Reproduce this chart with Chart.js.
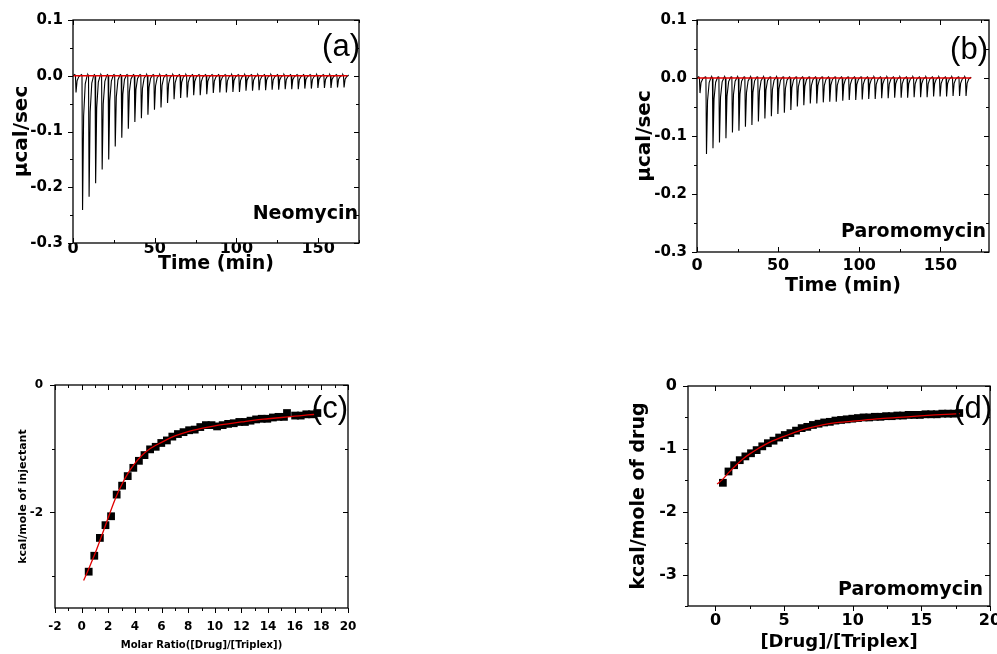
<!DOCTYPE html>
<html>
<head>
<meta charset="utf-8">
<script src="https://cdn.jsdelivr.net/npm/chart.js@4.4.0/dist/chart.umd.min.js"></script>
<style>
  html, body { margin: 0; padding: 0; background: #fff; width: 997px; height: 654px; overflow: hidden; position: relative; }
  canvas { position: absolute; left: 0; top: 0; }
</style>
</head>
<body>
<canvas id="chart-a" width="1020" height="654"></canvas>
<canvas id="chart-b" width="1020" height="654"></canvas>
<canvas id="chart-c" width="1020" height="654"></canvas>
<canvas id="chart-d" width="1020" height="654"></canvas>
<script>
/* ---- data ---- */

// injection times (min), same protocol for both titrations
const injTimes = [1.5, 5.5, 9.5, 13.5, 17.5, 21.5, 25.5, 29.5, 33.5, 37.5, 41.5, 45.5, 49.5, 53.5,
  57.5, 61.5, 65.5, 69.5, 73.5, 77.5, 81.5, 85.5, 89.5, 93.5, 97.5, 101.5, 105.5, 109.5, 113.5,
  117.5, 121.5, 125.5, 129.5, 133.5, 137.5, 141.5, 145.5, 149.5, 153.5, 157.5, 161.5, 165.5];

// peak heights (µcal/sec)
const neoPeaks = [-0.030, -0.241, -0.217, -0.193, -0.168, -0.150, -0.127, -0.111, -0.095, -0.083,
  -0.076, -0.070, -0.061, -0.057, -0.049, -0.042, -0.040, -0.039, -0.035, -0.035, -0.033, -0.031,
  -0.030, -0.030, -0.029, -0.029, -0.027, -0.027, -0.026, -0.026, -0.025, -0.025, -0.024, -0.024,
  -0.024, -0.023, -0.023, -0.022, -0.022, -0.022, -0.021, -0.021];
const paroPeaks = [-0.026, -0.131, -0.121, -0.111, -0.104, -0.094, -0.091, -0.084, -0.081, -0.075,
  -0.070, -0.066, -0.062, -0.060, -0.055, -0.049, -0.047, -0.044, -0.044, -0.042, -0.041, -0.041,
  -0.039, -0.038, -0.038, -0.037, -0.036, -0.036, -0.035, -0.035, -0.034, -0.034, -0.034, -0.033,
  -0.033, -0.033, -0.032, -0.032, -0.032, -0.031, -0.031, -0.031];
const neoEnd = 168;
const paroEnd = 169;

// (c) integrated heats, neomycin
const cRatio = [0.53, 0.95, 1.37, 1.79, 2.21, 2.63, 3.04, 3.46, 3.88, 4.30, 4.72, 5.14, 5.56, 5.98,
  6.40, 6.81, 7.23, 7.65, 8.07, 8.49, 8.91, 9.33, 9.75, 10.17, 10.59, 11.00, 11.42, 11.84, 12.26,
  12.68, 13.10, 13.52, 13.94, 14.36, 14.78, 15.19, 15.42, 16.03, 16.45, 16.87, 17.29, 17.70];
const cHeat = [-2.93, -2.68, -2.40, -2.20, -2.06, -1.72, -1.58, -1.43, -1.30, -1.19, -1.10, -1.01,
  -0.97, -0.91, -0.87, -0.81, -0.77, -0.74, -0.71, -0.70, -0.66, -0.63, -0.63, -0.65, -0.63, -0.61,
  -0.60, -0.58, -0.58, -0.56, -0.54, -0.53, -0.53, -0.51, -0.50, -0.50, -0.44, -0.48, -0.48, -0.46,
  -0.46, -0.44];
const cFitX = [0.15, 0.5, 1, 1.5, 2, 2.5, 3, 3.5, 4, 4.5, 5, 6, 7, 8, 9, 10, 11, 12, 13, 14, 15, 16, 17, 17.6];
const cFitY = [-3.07, -2.90, -2.65, -2.37, -2.08, -1.80, -1.57, -1.38, -1.23, -1.11, -1.02, -0.90,
  -0.80, -0.73, -0.68, -0.64, -0.61, -0.58, -0.55, -0.53, -0.51, -0.49, -0.47, -0.46];

// (d) integrated heats, paromomycin
const dRatio = [0.54, 0.95, 1.36, 1.77, 2.18, 2.59, 3.00, 3.41, 3.82, 4.23, 4.64, 5.05, 5.46, 5.87,
  6.28, 6.69, 7.10, 7.51, 7.92, 8.33, 8.74, 9.15, 9.56, 9.97, 10.38, 10.79, 11.20, 11.61, 12.02,
  12.43, 12.84, 13.25, 13.66, 14.07, 14.48, 14.89, 15.30, 15.71, 16.12, 16.53, 16.94, 17.35, 17.76];
const dHeat = [-1.54, -1.36, -1.26, -1.18, -1.12, -1.07, -1.02, -0.96, -0.91, -0.87, -0.82, -0.78,
  -0.75, -0.71, -0.67, -0.65, -0.62, -0.60, -0.58, -0.57, -0.55, -0.54, -0.53, -0.52, -0.51, -0.50,
  -0.50, -0.49, -0.49, -0.48, -0.48, -0.47, -0.47, -0.46, -0.46, -0.46, -0.45, -0.45, -0.45, -0.44,
  -0.44, -0.44, -0.43];
const dFitX = [0.12, 0.5, 1, 1.5, 2, 2.5, 3, 4, 5, 6, 7, 8, 9, 10, 12, 14, 16, 17.8];
const dFitY = [-1.56, -1.49, -1.37, -1.26, -1.16, -1.08, -1.01, -0.89, -0.80, -0.72, -0.66, -0.61,
  -0.58, -0.56, -0.52, -0.49, -0.46, -0.44];

// tick labels
const timeTicks = [0, 50, 100, 150];
const rateTicks = [0.1, 0.0, -0.1, -0.2, -0.3];
const cXTicks = [-2, 0, 2, 4, 6, 8, 10, 12, 14, 16, 18, 20];
const cYTicks = [0, -2];
const dXTicks = [0, 5, 10, 15, 20];
const dYTicks = [0, -1, -2, -3];

/* ---- helpers ---- */
const RED = "#e00000";
const CW = 1020, CH = 654;

function pairs(xs, ys){ return xs.map((x, i) => ({ x: x, y: ys[i] })); }

// one sharp exothermic spike per injection, drawn from its peak height
function thermogram(times, peaks, end){
  const pts = [{ x: 0, y: 0 }];
  times.forEach((t, i) => {
    const d = peaks[i];
    pts.push({ x: t - 0.4, y: 0.002 }, { x: t, y: 0 }, { x: t + 0.35, y: d },
             { x: t + 1.0, y: d * 0.3 }, { x: t + 2.0, y: d * 0.06 }, { x: t + 3.2, y: 0.001 });
  });
  pts.push({ x: end, y: 0 });
  return pts;
}

// box frame with ticks on all four sides
const framePlugin = {
  id: "frame",
  afterDatasetsDraw(chart, args, o){
    const { ctx, chartArea: a, scales } = chart;
    const x = scales.x, y = scales.y;
    ctx.save();
    ctx.strokeStyle = "#000";
    ctx.lineWidth = 1.3;
    ctx.strokeRect(a.left, a.top, a.right - a.left, a.bottom - a.top);
    ctx.lineWidth = 1;
    ctx.beginPath();
    const isMajor = (list, v) => list.some(t => Math.abs(t - v) < 1e-6);
    for (let i = 0; ; i++){
      const v = o.xFrom + i * o.xStep;
      if (v > x.max + 1e-6) break;
      const px = Math.round(x.getPixelForValue(v)) + 0.5;
      const len = isMajor(o.xMajor, v) ? 5 : 3;
      ctx.moveTo(px, a.bottom); ctx.lineTo(px, a.bottom + (o.bottomOut ? len : -len));
      ctx.moveTo(px, a.top); ctx.lineTo(px, a.top + len);
    }
    for (let i = 0; ; i++){
      const v = o.yFrom + i * o.yStep;
      if (v > y.max + 1e-6) break;
      const py = Math.round(y.getPixelForValue(v)) + 0.5;
      const len = isMajor(o.yMajor, v) ? 5 : 3;
      ctx.moveTo(a.left, py); ctx.lineTo(a.left - len, py);
      ctx.moveTo(a.right, py); ctx.lineTo(a.right - len, py);
    }
    ctx.stroke();
    ctx.restore();
  }
};

// panel letter and compound name
const notesPlugin = {
  id: "notes",
  afterDraw(chart, args, o){
    const { ctx, chartArea: a } = chart;
    ctx.save();
    ctx.fillStyle = "#000";
    ctx.textAlign = "right";
    ctx.textBaseline = "middle";
    ctx.font = '31px "Liberation Sans", Arial, sans-serif';
    ctx.fillText(o.letter, a.right + o.letterDx, a.top + o.letterDy);
    if (o.name){
      ctx.font = 'bold 19px "DejaVu Sans", sans-serif';
      ctx.fillText(o.name, a.right + o.nameDx, a.bottom - o.nameDy);
    }
    ctx.restore();
  }
};

function axisFont(size){ return { family: '"DejaVu Sans", sans-serif', weight: "bold", size: size, lineHeight: 1 }; }

function makePanel(id, p){
  const [left, top, right, bottom] = p.area;
  return new Chart(document.getElementById(id), {
    type: "scatter",
    data: { datasets: p.datasets },
    options: {
      responsive: false,
      animation: false,
      events: [],
      layout: { padding: { left: left - p.yW, top: top, right: CW - right, bottom: CH - bottom - p.xH } },
      plugins: {
        legend: { display: false },
        tooltip: { enabled: false },
        frame: p.frame,
        notes: p.notes
      },
      scales: {
        x: {
          type: "linear", min: p.xMin, max: p.xMax,
          afterFit: s => { s.height = p.xH; },
          afterBuildTicks: s => { s.ticks = p.xTicks.map(v => ({ value: v })); },
          grid: { display: false, drawTicks: false }, border: { display: false },
          ticks: { color: "#000", font: axisFont(p.xTickSize), padding: p.xPad, maxRotation: 0, autoSkip: false,
                   callback: v => String(v) },
          title: { display: true, text: p.xTitle, color: "#000", font: axisFont(p.xTitleSize), padding: 0 }
        },
        y: {
          type: "linear", min: p.yMin, max: p.yMax,
          afterFit: s => { s.width = p.yW; },
          afterBuildTicks: s => { s.ticks = p.yTicks.map(v => ({ value: v })); },
          grid: { display: false, drawTicks: false }, border: { display: false },
          ticks: { color: "#000", font: axisFont(p.yTickSize), padding: p.yPad, autoSkip: false,
                   callback: p.yFormat || (v => String(v)) },
          title: { display: true, text: p.yTitle, color: "#000", font: axisFont(p.yTitleSize), padding: 0 }
        }
      }
    },
    plugins: [framePlugin, notesPlugin]
  });
}

function baseline(end){ return { data: [{ x: 0, y: 0 }, { x: end, y: 0 }], showLine: true, borderColor: RED, borderWidth: 1.5, pointRadius: 0 }; }
function trace(times, peaks, end){ return { data: thermogram(times, peaks, end), showLine: true, borderColor: "#000", borderWidth: 1.1, pointRadius: 0, tension: 0 }; }
function fit(xs, ys){ return { data: pairs(xs, ys), showLine: true, borderColor: RED, borderWidth: 1.3, pointRadius: 0, tension: 0.4, cubicInterpolationMode: "monotone" }; }
function squares(xs, ys){ return { data: pairs(xs, ys), showLine: false, pointStyle: "rect", pointRadius: 5.5, backgroundColor: "#000", borderColor: "#000", borderWidth: 0 }; }

/* ---- panels ---- */
makePanel("chart-a", {
  area: [73, 20, 359, 243], yW: 61, xH: 31, xPad: -2, yPad: 10, xTickSize: 16, yTickSize: 15,
  xMin: 0, xMax: 175, yMin: -0.3, yMax: 0.1,
  xTicks: timeTicks, yTicks: rateTicks, yFormat: v => v.toFixed(1),
  xTitle: "Time (min)", yTitle: "µcal/sec", xTitleSize: 19, yTitleSize: 20,
  datasets: [baseline(neoEnd), trace(injTimes, neoPeaks, neoEnd)],
  frame: { xFrom: 0, xStep: 25, yFrom: -0.3, yStep: 0.05, xMajor: timeTicks, yMajor: rateTicks, bottomOut: false },
  notes: { letter: "(a)", letterDx: 1, letterDy: 27, name: "Neomycin", nameDx: -1, nameDy: 29 }
});

makePanel("chart-b", {
  area: [697, 20, 989, 252], yW: 62, xH: 44, xPad: 6, yPad: 10, xTickSize: 16, yTickSize: 15,
  xMin: 0, xMax: 180, yMin: -0.3, yMax: 0.1,
  xTicks: timeTicks, yTicks: rateTicks, yFormat: v => v.toFixed(1),
  xTitle: "Time (min)", yTitle: "µcal/sec", xTitleSize: 19, yTitleSize: 20,
  datasets: [baseline(paroEnd), trace(injTimes, paroPeaks, paroEnd)],
  frame: { xFrom: 0, xStep: 25, yFrom: -0.3, yStep: 0.05, xMajor: timeTicks, yMajor: rateTicks, bottomOut: false },
  notes: { letter: "(b)", letterDx: -1, letterDy: 30, name: "Paromomycin", nameDx: -3, nameDy: 20 }
});

makePanel("chart-c", {
  area: [55, 385, 348, 608], yW: 37, xH: 42, xPad: 13, yPad: 12, xTickSize: 12, yTickSize: 12,
  xMin: -2, xMax: 20, yMin: -3.5, yMax: 0,
  xTicks: cXTicks, yTicks: cYTicks,
  xTitle: "Molar Ratio([Drug]/[Triplex])", yTitle: "kcal/mole of injectant", xTitleSize: 10, yTitleSize: 11,
  datasets: [fit(cFitX, cFitY), squares(cRatio, cHeat)],
  frame: { xFrom: -2, xStep: 1, yFrom: -3, yStep: 1, xMajor: cXTicks, yMajor: cYTicks, bottomOut: true },
  notes: { letter: "(c)", letterDx: 0, letterDy: 24 }
});

makePanel("chart-d", {
  area: [688, 386, 990, 606], yW: 58, xH: 45, xPad: 7, yPad: 11, xTickSize: 16, yTickSize: 16,
  xMin: -2, xMax: 20, yMin: -3.5, yMax: 0,
  xTicks: dXTicks, yTicks: dYTicks,
  xTitle: "[Drug]/[Triplex]", yTitle: "kcal/mole of drug", xTitleSize: 18, yTitleSize: 19,
  datasets: [fit(dFitX, dFitY), squares(dRatio, dHeat)],
  frame: { xFrom: 0, xStep: 2.5, yFrom: -3.5, yStep: 0.5, xMajor: dXTicks, yMajor: dYTicks, bottomOut: true },
  notes: { letter: "(d)", letterDx: 2, letterDy: 23, name: "Paromomycin", nameDx: -7, nameDy: 16 }
});
</script>
</body>
</html>
